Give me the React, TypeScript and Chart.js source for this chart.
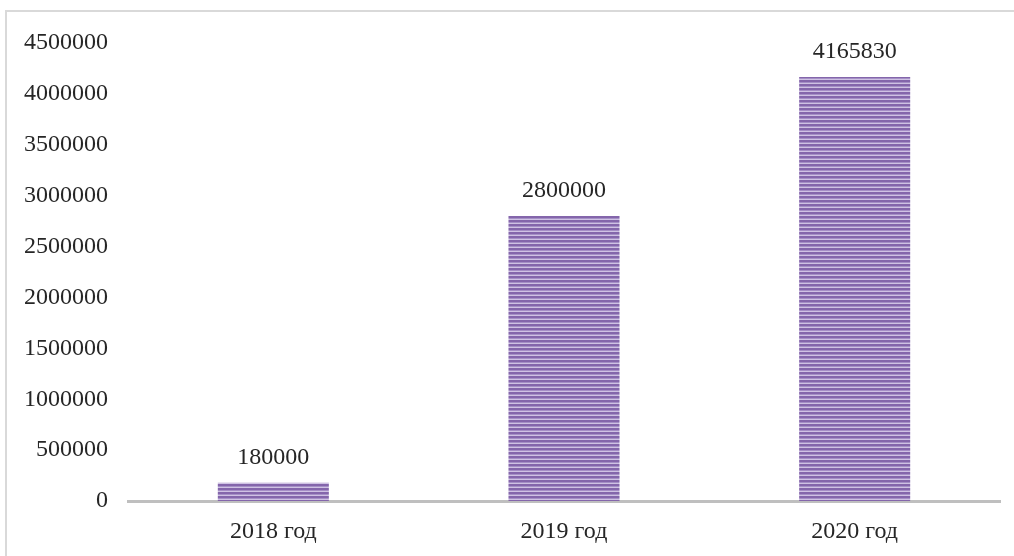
import React, { useEffect, useRef } from "react";
import { Chart, registerables } from "chart.js";

Chart.register(...registerables);

const categories = ["2018 год", "2019 год", "2020 год"];
const values = [180000, 2800000, 4165830];
const yMin = 0;
const yMax = 4500000;
const yStep = 500000;

const FONT = "'Liberation Serif', 'Times New Roman', serif";

function makePattern(): CanvasPattern | string {
  const c = document.createElement("canvas");
  c.width = 4;
  c.height = 4;
  const ctx = c.getContext("2d");
  if (!ctx) return "#8064a2";
  ctx.fillStyle = "#8466ab";
  ctx.fillRect(0, 0, 4, 2);
  ctx.fillStyle = "#a58fc6";
  ctx.fillRect(0, 2, 4, 1);
  ctx.fillStyle = "#cfc2e3";
  ctx.fillRect(0, 3, 4, 1);
  const p = ctx.createPattern(c, "repeat");
  return p || "#8064a2";
}

const frame = {
  id: "frame",
  beforeDraw(chart: any) {
    const ctx = chart.ctx;
    ctx.save();
    ctx.fillStyle = "#ffffff";
    ctx.fillRect(0, 0, chart.width, chart.height);
    ctx.strokeStyle = "#d9d9d9";
    ctx.lineWidth = 2;
    ctx.strokeRect(6, 11, chart.width + 20, chart.height + 20);
    ctx.restore();
  },
};

const valueLabels = {
  id: "valueLabels",
  afterDatasetsDraw(chart: any) {
    const ctx = chart.ctx;
    const meta = chart.getDatasetMeta(0);
    ctx.save();
    ctx.font = `24px ${FONT}`;
    ctx.fillStyle = "#262626";
    ctx.textAlign = "center";
    ctx.textBaseline = "alphabetic";
    meta.data.forEach((bar: any, i: number) => {
      ctx.fillText(String(values[i]), bar.x, bar.y - 19);
    });
    ctx.restore();
  },
};

export default function App() {
  const ref = useRef<HTMLCanvasElement>(null);
  useEffect(() => {
    if (!ref.current) return;
    const chart = new Chart(ref.current, {
      type: "bar",
      data: {
        labels: categories,
        datasets: [
          {
            data: values,
            backgroundColor: makePattern() as any,
            borderWidth: 0,
            categoryPercentage: 1,
            barPercentage: 0.382,
          },
        ],
      },
      options: {
        animation: false,
        responsive: false,
        maintainAspectRatio: false,
        layout: { padding: { left: 0, right: 14, top: 43, bottom: 0 } },
        plugins: {
          legend: { display: false },
          tooltip: { enabled: false },
        },
        scales: {
          x: {
            grid: { display: false, drawTicks: false },
            border: { display: true, color: "#bfbfbf", width: 3 },
            ticks: {
              font: { family: FONT, size: 24 },
              color: "#262626",
              padding: 16,
            },
            afterFit(scale: any) {
              scale.height = 55;
            },
          },
          y: {
            min: yMin,
            max: yMax,
            grid: { display: false, drawTicks: false },
            border: { display: false },
            ticks: {
              stepSize: yStep,
              font: { family: FONT, size: 24 },
              color: "#262626",
              padding: 20,
              callback: (v: any) => String(v),
            },
            afterFit(scale: any) {
              scale.width = 128;
            },
          },
        },
      },
      plugins: [frame, valueLabels],
    });
    return () => chart.destroy();
  }, []);
  return (
    <div style={{ position: "absolute", left: 0, top: 0, width: 1014, height: 556 }}>
      <canvas ref={ref} width={1014} height={556} style={{ display: "block" }} />
    </div>
  );
}
